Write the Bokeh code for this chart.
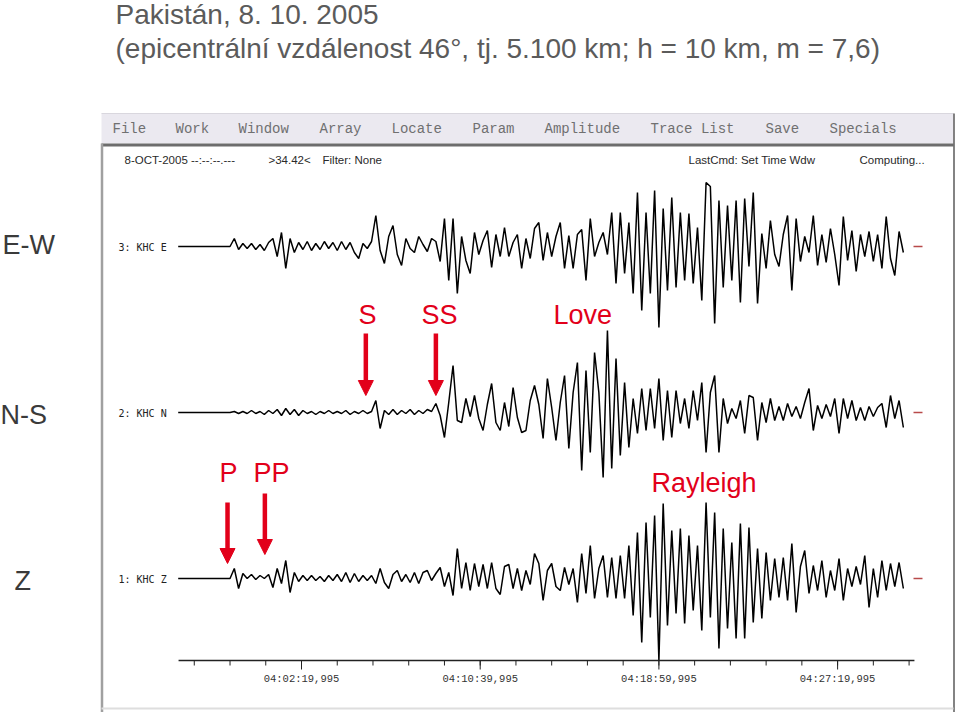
import numpy as np
from bokeh.plotting import figure
from bokeh.models import Range1d, Arrow, NormalHead
from bokeh.embed import file_html
from bokeh.resources import INLINE
from bokeh.core.properties import value

# ---------------- data ----------------
TITLE_1 = "Pakistán, 8. 10. 2005"
TITLE_2 = "(epicentrální vzdálenost 46°, tj. 5.100 km; h = 10 km, m = 7,6)"
COMPONENTS = ["E-W", "N-S", "Z"]
CHANNELS = ["3: KHC E", "2: KHC N", "1: KHC Z"]
MENU = ["File", "Work", "Window", "Array", "Locate", "Param", "Amplitude",
        "Trace List", "Save", "Specials"]
STATUS = ["8-OCT-2005 --:--:--.---", ">34.42<", "Filter: None",
          "LastCmd: Set Time Wdw", "Computing..."]

# time in seconds after 04:00:00 UTC
T_LEAD = -205.0
T0 = -60.0
DT = 12.0
E_AMP = [0, 8, -3, 3, -2, 3, -3, 2, -4, 4,
         8, -10, 14, -22, 8, -6, 4, -3, 5, -4,
         3, -3, 5, -2, 4, -4, 5, -3, 4, -6,
         -12, 3, -2, 5, 31, -4, -17, 10, 21, -8,
         -19, 8, -2, -6, 10, 2, -5, 8, 5, -15,
         28, -34, 28, -47, 10, -14, -27, 14, -8, 6,
         16, -21, 12, -10, 19, -10, 4, 12, -22, 8,
         -12, 18, 24, -14, 14, -10, 10, 24, -22, 11,
         -22, 12, 17, -34, 28, -10, 4, 14, -8, 34,
         -37, 34, -27, 24, -47, 54, -64, 34, -47, 56,
         -81, 38, -44, 49, -41, 34, -34, 33, -37, 19,
         -54, 64, 60, -77, 46, -41, 41, -34, 46, -56,
         48, -20, 54, -57, 13, -22, 26, -8, -20, 12,
         31, -44, 28, -15, 10, -6, 31, -19, 12, -16,
         18, -8, -39, 30, -14, 16, -25, 12, -10, 15,
         -15, 12, -22, 30, -12, -29, 15, -6]
N_AMP = [0, 1, -1, 1, -1, 2, -1, 1, -2, 2,
         -1, 3, -3, 4, -2, 3, -3, 2, -1, 1,
         -2, 1, -1, 2, -1, 1, -1, 2, -2, 1,
         -1, 2, -1, 1, 12, -16, 2, -2, 3, -2,
         2, -1, 3, -2, 2, -1, 3, 1, 9, -3,
         -25, 10, 47, -8, -10, 14, -4, 17, -6, -18,
         8, 29, -10, -18, 10, -14, 25, -5, -20, -18,
         12, 27, 8, -26, 34, 5, -28, 10, 37, -36,
         20, 50, -58, 42, -40, 60, 20, -65, 82, -56,
         54, -43, 30, -35, 14, -21, 24, -18, 24, -16,
         34, -28, 22, -25, 22, -11, 14, -16, 22, -8,
         30, -40, 20, 37, -40, 14, -11, 4, -6, 12,
         -21, 17, 15, -28, 10, -10, 14, -8, 6, -8,
         9, -4, 6, -6, 10, 24, -18, 7, -6, 8,
         -4, 14, -21, 14, -6, 12, -8, 5, -8, 6,
         -4, 5, 9, -15, 17, -6, 12, -15]
Z_AMP = [0, 10, -10, 5, 0, 4, -1, 3, 0, 4,
         -9, 10, -5, 18, -14, 6, -3, 3, -2, 3,
         -2, 2, -3, 3, -2, 4, -3, 6, -4, 5,
         -3, 3, -2, 3, -5, 10, -4, -10, 4, 8,
         -3, 4, -4, 6, -5, 6, 8, -2, 5, 11,
         -8, 6, -17, 30, -10, 16, -12, 15, -8, 14,
         -10, 16, -10, -16, 12, 14, -10, 10, -12, 8,
         -6, 25, 15, -22, 8, 15, -8, -12, 11, -6,
         10, -24, 25, -15, 33, -20, 10, 23, -19, 21,
         -20, 23, -20, 33, -37, 46, -64, 56, -39, 63,
         -82, 75, -47, 48, -35, 50, -45, 43, -32, 33,
         -52, 76, -39, 66, -70, 50, -50, 36, -60, 55,
         -60, 51, -44, 30, -40, 26, -22, 20, -19, 21,
         -22, 35, -34, 12, 28, -15, 13, -12, 18, -19,
         8, -12, 20, -22, 10, -8, 12, -6, 23, -29,
         10, -19, 18, -12, 15, -8, 16, -10]

AXIS_T = [-204.0, 1855.0]
MINOR_TICKS = list(np.arange(-160.005, 1840.0, 100.0))
MAJOR_TICKS = [139.995, 639.995, 1139.995, 1639.995]
MAJOR_LABELS = ["04:02:19,995", "04:10:39,995", "04:18:59,995", "04:27:19,995"]

PHASES = ["P", "PP", "S", "SS"]
PHASE_T = [-67.0, 37.5, 320.0, 516.0]
WAVES = ["S", "SS", "Love", "P", "PP", "Rayleigh"]

# ---------------- layout ----------------
W, H = 960, 712
PX_REF, T_REF, PX_PER_S = 301.0, 139.995, 178.7 / 500.0


def t_at(px):
    return T_REF + (px - PX_REF) / PX_PER_S


RED = "#e2001a"
BASES = [246, 412, 578]
NAMES = ["E", "N", "Z"]

p = figure(width=W, height=H, x_range=Range1d(0, W), y_range=Range1d(H, 0),
           output_backend="svg", toolbar_location=None,
           x_axis_type=None, y_axis_type=None, min_border=0,
           outline_line_color=None, background_fill_color="white",
           border_fill_color="white")
p.extra_x_ranges = {"time": Range1d(t_at(0), t_at(W))}
p.extra_y_ranges = {n: Range1d(-(H - b), b) for n, b in zip(NAMES, BASES)}

# titles
p.text(x=[115, 115], y=[13.5, 47.5], text=[TITLE_1, TITLE_2],
       text_font=value("Liberation Sans"), text_font_size="28px",
       text_color="#5b5b5b", text_baseline="middle")

# screenshot frame
p.quad(left=[101], right=[953], top=[113], bottom=[143], fill_color="#ebe9f0",
       line_color=None)
p.segment(x0=[101], x1=[953], y0=[144.5], y1=[144.5], line_color="#6d6d6d", line_width=3)
p.segment(x0=[101], x1=[953], y0=[113], y1=[113], line_color="#d9d7de", line_width=1)
p.segment(x0=[101.5], x1=[101.5], y0=[143], y1=[712], line_color="#a0a0a0", line_width=2.5)
p.segment(x0=[953.5], x1=[953.5], y0=[113], y1=[712], line_color="#5a5a5a", line_width=1.5)
p.segment(x0=[101], x1=[953], y0=[708], y1=[708], line_color="#dedede", line_width=2)

MENU_X = [112, 175, 238, 319, 391, 472, 544, 650, 765, 829]
p.text(x=MENU_X, y=[128] * len(MENU), text=MENU, text_font=value("Liberation Mono"),
       text_font_size="14px", text_color="#707070", text_baseline="middle")
STATUS_X = [124, 268, 322, 688, 859]
p.text(x=STATUS_X, y=[159.5] * len(STATUS), text=STATUS, text_font=value("Liberation Sans"),
       text_font_size="11.5px", text_color="#2a2a2a", text_baseline="middle")

# component labels
p.text(x=[2, 0, 14], y=[244, 414, 580], text=COMPONENTS,
       text_font=value("Liberation Sans"), text_font_size="27px",
       text_color="#3a3a3a", text_baseline="middle")

# traces
for name, base, amps, ch in zip(NAMES, BASES, [E_AMP, N_AMP, Z_AMP], CHANNELS):
    t = T0 + DT * np.arange(len(amps))
    xs = np.r_[T_LEAD, t]
    ys = np.r_[0.0, np.asarray(amps, dtype=float)]
    p.line(xs, ys, x_range_name="time", y_range_name=name,
           line_color="black", line_width=1.5)
    p.segment(x0=[t_at(913)], x1=[t_at(922)], y0=[0], y1=[0], x_range_name="time",
              y_range_name=name, line_color="#b84a4a", line_width=1.5)
    p.text(x=[118], y=[base + 1], text=[ch], text_font=value("DejaVu Sans Mono"),
           text_font_size="10px", text_color="#222222", text_baseline="middle")

# time axis
p.segment(x0=[AXIS_T[0]], x1=[AXIS_T[1]], y0=[660], y1=[660], x_range_name="time",
          line_color="#222222", line_width=1.5)
p.segment(x0=MINOR_TICKS, x1=MINOR_TICKS, y0=[660] * len(MINOR_TICKS),
          y1=[665] * len(MINOR_TICKS), x_range_name="time", line_color="#222222",
          line_width=1)
p.segment(x0=MAJOR_TICKS, x1=MAJOR_TICKS, y0=[660] * 4, y1=[669] * 4,
          x_range_name="time", line_color="#222222", line_width=1)
p.text(x=MAJOR_TICKS, y=[678] * 4, text=MAJOR_LABELS, x_range_name="time",
       text_font=value("Liberation Mono"), text_font_size="10.5px",
       text_color="#333333", text_align="center", text_baseline="middle")

# phase labels
p.text(x=[358, 421, 553, 219, 253, 651], y=[314, 314, 314, 472, 472, 482], text=WAVES,
       text_font=value("Liberation Sans"), text_font_size="27px", text_color=RED,
       text_baseline="middle")

# arrows
ARROW_Y = [(502, 563), (493, 554), (333, 395), (333, 395)]
for tt, (y0, y1) in zip(PHASE_T, ARROW_Y):
    p.add_layout(Arrow(end=NormalHead(size=15, fill_color=RED, line_color=RED, line_width=1),
                       x_start=tt, x_end=tt, y_start=y0, y_end=y1,
                       x_range_name="time", line_color=RED, line_width=4.5))

open("out.html", "w").write(file_html(p, INLINE))
